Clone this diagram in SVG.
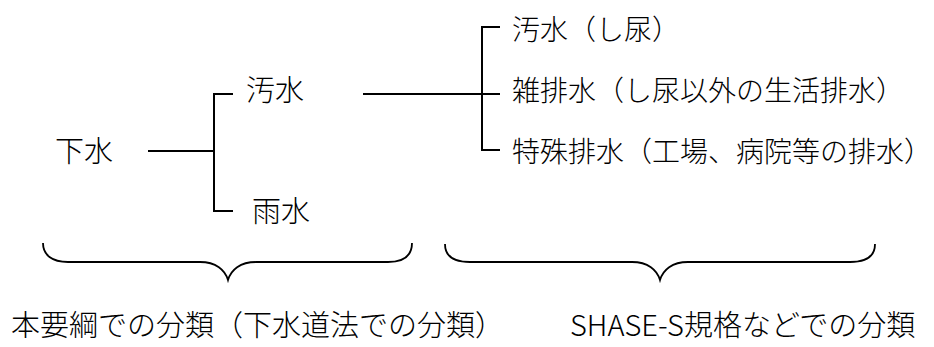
<svg xmlns="http://www.w3.org/2000/svg" width="934" height="347" viewBox="0 0 934 347">
<style>
text { font-family: "Noto Sans CJK JP", "Noto Sans", sans-serif; font-size: 29px; fill: #000; font-weight: 300; }
text.r { font-size: 28px; }
.ln { stroke: #000; stroke-width: 2; fill: none; }
.br { stroke: #000; stroke-width: 1.8; fill: none; }
</style>
<rect width="934" height="347" fill="#fff"/>
<g id="connectors">
<line class="ln" x1="148" y1="151" x2="215" y2="151"/>
<polyline class="ln" points="233,94 214,94 214,211 233,211"/>
<line class="ln" x1="363" y1="94" x2="500" y2="94"/>
<polyline class="ln" points="500,27 482,27 482,150 500,150"/>
</g>
<g id="node-gesui"><text x="55" y="162">下水</text></g>
<g id="node-osui"><text x="246" y="101">汚水</text></g>
<g id="node-usui"><text x="252" y="222">雨水</text></g>
<g id="node-osui-shinyo"><text class="r" x="512" y="40">汚水（し尿）</text></g>
<g id="node-zatsuhaisui"><text class="r" x="512" y="101">雑排水（し尿以外の生活排水）</text></g>
<g id="node-tokushu"><text class="r" x="512" y="162">特殊排水（工場、病院等の排水）</text></g>
<g id="brace-left">
<path class="br" d="M43,243 C43,255 52,262 68,262 L200,262 C216,262 225,270 228,280 C231,270 240,262 256,262 L388,262 C404,262 412,255 412,243"/>
<text x="11" y="336">本要綱での分類（下水道法での分類）</text>
</g>
<g id="brace-right">
<path class="br" d="M445,244 C445,256 454,262 470,262 L632,262 C648,262 657,270 660,280 C663,270 672,262 688,262 L850,262 C866,262 875,256 875,244"/>
<text x="570" y="336">SHASE-S規格などでの分類</text>
</g>
</svg>
